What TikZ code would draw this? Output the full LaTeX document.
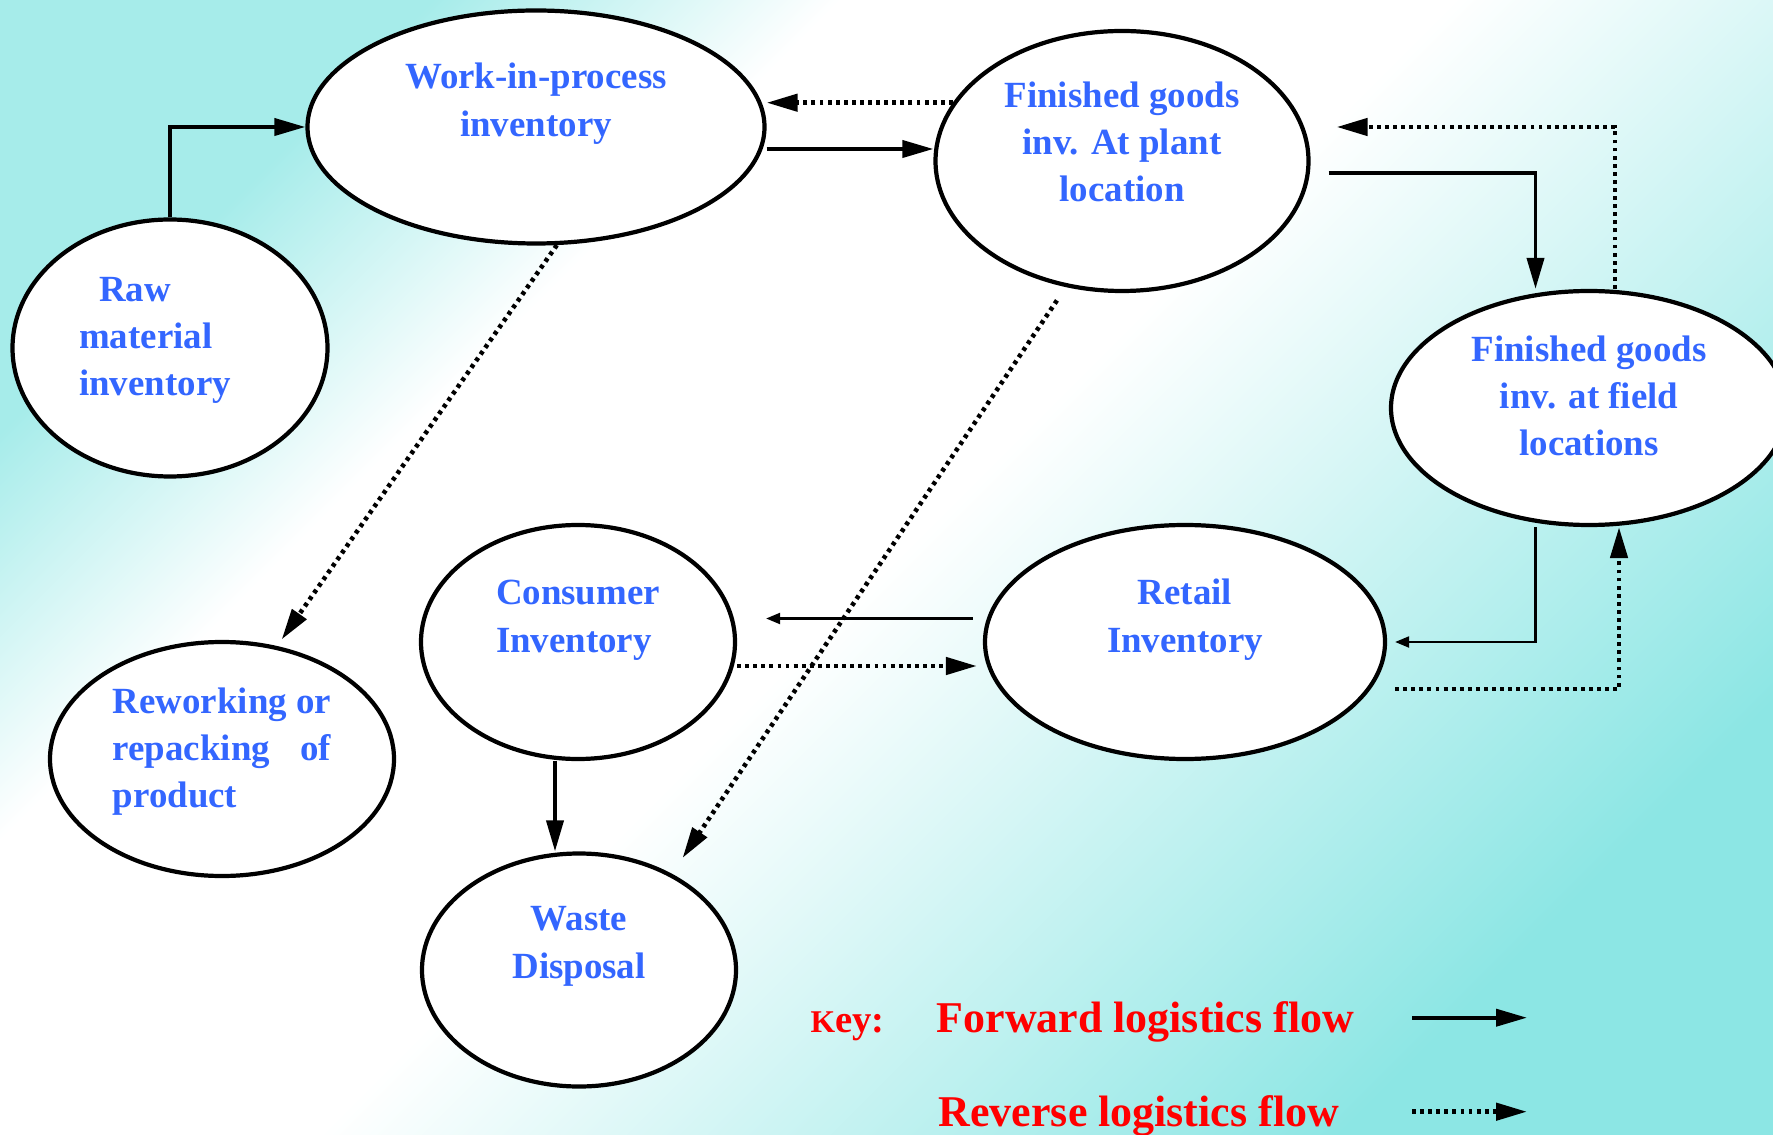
\documentclass[tikz,border=0pt]{standalone}
\usepackage{fontspec}
\setmainfont{Liberation Serif}
\usetikzlibrary{shapes.geometric,arrows.meta}
\definecolor{invblue}{RGB}{51,102,255}
\definecolor{bgtop}{RGB}{166,236,234}
\definecolor{bgbot}{RGB}{140,230,228}
\pgfdeclarehorizontalshading{bgshade}{100bp}{color(0bp)=(bgtop); color(25bp)=(bgtop); color(35bp)=(white); color(50bp)=(white); color(75bp)=(bgbot); color(100bp)=(bgbot)}
\newcommand{\lift}[3][c]{\raisebox{#2}[\height][\depth]{\begin{tabular}{@{}#1@{}}#3\end{tabular}}}

\begin{document}
\begin{tikzpicture}[inv/.style={draw, ellipse, fill=white, line width=1.2pt, inner sep=0pt, text=invblue, font=\fontsize{10.5}{13.5}\selectfont\bfseries},
  fwd/.style={line width=1.1pt, -{Triangle[length=3.1mm,width=1.7mm]}},
  thinfwd/.style={line width=0.6pt, -{Triangle[length=1.4mm,width=1.1mm]}},
  rev/.style={line width=1.3pt, dash pattern=on 1.1pt off 1.2pt, -{Triangle[length=3.1mm,width=1.7mm]}},
  keytext/.style={text=red, font=\fontsize{12.5}{15}\selectfont\bfseries, anchor=base west, inner sep=0pt}]
    \shade[shading=bgshade, shading angle=-45] (0,0) rectangle (17.73,11.34);
    \useasboundingbox (0,0) rectangle (17.73,11.34);

    \node[inv, minimum width=3.15cm, minimum height=2.57cm] (raw) at (1.70,7.86) {\lift[l]{0.09cm}{\hspace{0.2cm}Raw\\material\\inventory\hspace*{0.3cm}}};
    \node[inv, minimum width=4.57cm, minimum height=2.33cm] (wip) at (5.36,10.07) {\lift{0.24cm}{Work-in-process\\inventory}};
    \node[inv, minimum width=3.73cm, minimum height=2.60cm] (fgp) at (11.22,9.73) {\lift{0.16cm}{Finished goods\\inv. At plant\\location}};
    \node[inv, minimum width=3.96cm, minimum height=2.34cm] (fgf) at (15.89,7.26) {\lift{0.09cm}{Finished goods\\inv. at field\\locations}};
    \node[inv, minimum width=3.14cm, minimum height=2.34cm] (cons) at (5.78,4.92) {\lift[l]{0.23cm}{Consumer\\Inventory}};
    \node[inv, minimum width=4.00cm, minimum height=2.34cm] (retail) at (11.85,4.92) {\lift{0.23cm}{Retail\\Inventory}};
    \node[inv, minimum width=3.44cm, minimum height=2.34cm] (rework) at (2.22,3.75) {\lift[l]{0.08cm}{Reworking \hfill or\\repacking \hfill of\\product}};
    \node[inv, minimum width=3.14cm, minimum height=2.33cm] (waste) at (5.79,1.64) {\lift{0.25cm}{Waste\\Disposal}};

    % key
    \node[keytext, font=\fontsize{11}{13}\selectfont\bfseries] (key) at (8.10,1.02) {{\fontsize{9}{10}\selectfont K}ey:};
    \node[keytext] (fwdtext) at (9.36,1.02) {Forward logistics flow};
    \node[keytext] (revtext) at (9.38,0.08) {Reverse logistics flow};
    \coordinate (fwd-a) at (14.12,1.163);
    \coordinate (fwd-b) at (15.27,1.163);
    \coordinate (rev-a) at (14.12,0.223);
    \coordinate (rev-b) at (15.27,0.223);

    \draw[fwd] (raw.north) |- (wip.west);
    \draw[fwd] ([yshift=-0.22cm]wip.east) -- ([yshift=-0.22cm]wip.east -| fgp.west);
    \draw[fwd] ([shift={(0.18,-0.12)}]fgp.east) -| ([xshift=-0.535cm]fgf.north);
    \draw[thinfwd] ([xshift=-0.535cm]fgf.south) |- ([xshift=0.08cm]retail.east);
    \draw[thinfwd] ([shift={(-0.1,0.235)}]retail.west) -- ([shift={(0.29,0.235)}]cons.east);
    \draw[fwd] ([xshift=-0.23cm]cons.south) -- ([xshift=-0.23cm]cons.south |- waste.north);
    \draw[fwd] (fwd-a) -- (fwd-b);

   \begin{scope}[rev]
    \draw (fgp.161) -- (fgp.161 -| wip.east);
    \draw ([xshift=0.26cm]fgf.north) |- ([shift={(0.26,0.34)}]fgp.east);
    \draw ([shift={(0.08,-0.47)}]retail.east) -| ([xshift=0.3cm]fgf.south);
    \draw ([yshift=-0.24cm]cons.east) -- ([shift={(-0.06,-0.24)}]retail.west);
    \draw[shorten >=0.08cm] (wip.-80) -- (rework.64);
    \draw[shorten <=0.16cm, shorten >=0.19cm] (fgp.246) -- (waste.46);
    \draw (rev-a) -- (rev-b);
   \end{scope}
\end{tikzpicture}
\end{document}
